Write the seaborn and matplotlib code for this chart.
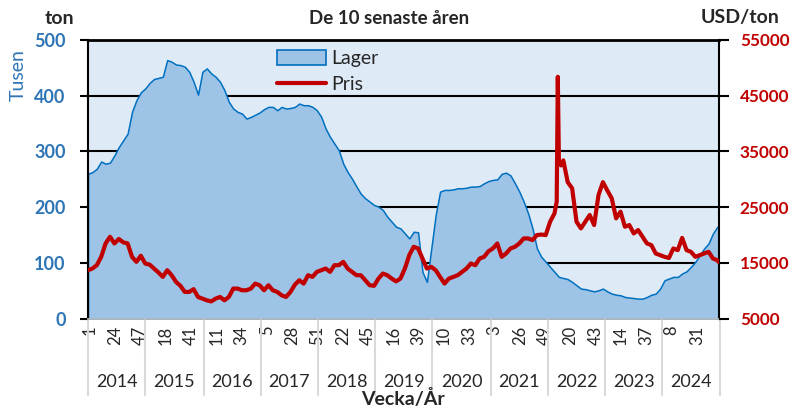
import matplotlib
matplotlib.use("Agg")
import matplotlib.pyplot as plt
import matplotlib.transforms as mtransforms
from matplotlib.patches import Patch
from matplotlib.lines import Line2D
import seaborn as sns

# År och antal veckor per år (2015 och 2020 har 53 veckor)
ar = [2014, 2015, 2016, 2017, 2018, 2019, 2020, 2021, 2022, 2023, 2024]
veckor_per_ar = [52, 53, 52, 52, 52, 52, 53, 52, 52, 52, 52]

# Lager (tusen ton), avläst var fjärde vecka (index räknat från v1 2014)
lager_vecka = list(range(0, 573, 4)) + [573]
lager = [260, 263, 269, 282, 278, 280, 293, 308, 320, 332, 371, 392, 406, 413, 423, 430,
         432, 434, 464, 461, 456, 455, 452, 443, 425, 402, 443, 449, 440, 434, 425, 410,
         389, 377, 371, 368, 359, 362, 366, 370, 376, 380, 380, 374, 380, 377, 378, 380,
         386, 383, 383, 380, 374, 362, 341, 326, 314, 302, 278, 263, 251, 237, 224, 216,
         210, 204, 201, 195, 183, 174, 165, 162, 153, 144, 156, 155, 84, 66, 126, 186,
         228, 231, 231, 232, 234, 234, 235, 237, 237, 238, 243, 247, 249, 250, 260, 262,
         257, 243, 228, 210, 189, 162, 126, 111, 102, 93, 84, 75, 73, 71, 66, 60,
         54, 53, 51, 49, 51, 54, 49, 45, 43, 42, 39, 38, 37, 36, 36, 39,
         43, 45, 54, 69, 72, 75, 75, 81, 85, 93, 102, 114, 126, 135, 153, 165, 162]

# Pris (USD/ton), var fjärde vecka plus extra punkter runt toppen mars 2022
pris_vecka = sorted(set(range(0, 573, 4)) | {426, 427, 430, 573})
pris = [13700, 14000, 14600, 16100, 18500, 19700, 18500, 19300, 18700, 18500, 16100, 15200,
        16300, 14900, 14700, 14000, 13300, 12500, 13700, 12800, 11600, 10900, 9800, 9800,
        10300, 8900, 8600, 8300, 8100, 8600, 8900, 8300, 8900, 10400, 10400, 10100,
        10100, 10400, 11300, 11000, 10100, 11000, 10100, 9800, 9200, 8900, 9800, 11100,
        11900, 11300, 12800, 12500, 13400, 13700, 14000, 13400, 14600, 14600, 15200, 14000,
        13400, 12800, 12800, 11900, 11000, 10900, 12200, 13100, 12800, 12200, 11700, 12200,
        14000, 16400, 17900, 17600, 15800, 14000, 14300, 13700, 12500, 11300, 12200, 12500,
        12800, 13400, 14000, 14900, 14600, 15800, 16100, 17100, 17600, 18500, 16100, 16700,
        17600, 17900, 18500, 19400, 19400, 19100, 20000, 20100, 20000, 22400, 23900, 26000,
        48400, 33100, 32500, 33400, 29500, 28400, 22400, 21200, 22400, 23600, 21800, 27200,
        29500, 28000, 26600, 23000, 24200, 21500, 21800, 20300, 20900, 19700, 18500, 18200,
        16700, 16400, 16100, 15900, 17600, 17300, 19500, 17300, 17000, 16100, 16400, 16700,
        17000, 15800, 15500, 15200]

BLA = "#2E75B6"
ROD = "#C00000"

sns.set_theme(style="white")
plt.rcParams["font.family"] = ["Lato", "DejaVu Sans"]

W, H = 792, 412
fig = plt.figure(figsize=(W / 100, H / 100), dpi=100)
ax = fig.add_axes([88 / W, 1 - 318.7 / H, 631 / W, 278.7 / H])
ax.set_facecolor("#DEEBF7")

# stödlinjer bakom lagret
for v in [100, 200, 300, 400]:
    ax.axhline(v, color="black", lw=1.5, zorder=1)

ax.fill_between(lager_vecka, lager, 0, facecolor="#9DC3E6", edgecolor="#0070C0",
                linewidth=1.1, zorder=2)
ax.set_xlim(0, 573.5)
ax.set_ylim(0, 500)
ax.set_yticks(range(0, 501, 100))
ax.tick_params(axis="y", length=6, width=1.5, color="black", labelcolor=BLA,
               labelsize=13, pad=10, left=True)
for t in ax.get_yticklabels():
    t.set_fontweight("bold")

# veckoetiketter var 23:e vecka
pos, etiketter = [], []
start = 0
starter = []
for a, n in zip(ar, veckor_per_ar):
    starter.append(start)
    start += n
for k in range(0, start, 23):
    i = max(j for j, s in enumerate(starter) if s <= k)
    pos.append(k + 1.5)
    etiketter.append(str(k - starter[i] + 1))
ax.set_xticks(pos)
ax.set_xticklabels(etiketter, rotation=90, fontsize=12)
ax.tick_params(axis="x", length=0, pad=5)

trans = mtransforms.blended_transform_factory(ax.transData, ax.transAxes)
for s in starter + [start]:
    ax.plot([s, s], [0, -0.275], transform=trans, clip_on=False,
            color="#D9D9D9", lw=1.5)
for a, s, n in zip(ar, starter, veckor_per_ar):
    ax.text(s + n / 2, -0.226, str(a), transform=trans, ha="center", va="center",
            fontsize=13)

for side in ["left", "right"]:
    ax.spines[side].set_color("black")
    ax.spines[side].set_linewidth(1.5)
ax.spines["top"].set_color("black")
ax.spines["top"].set_linewidth(2)
ax.spines["bottom"].set_color("#BFBFBF")

# pris på högeraxeln
ax2 = ax.twinx()
sns.lineplot(x=pris_vecka, y=pris, ax=ax2, color=ROD, linewidth=3, zorder=3)
ax2.set_ylim(5000, 55000)
ax2.set_yticks(range(5000, 55001, 10000))
ax2.tick_params(axis="y", length=7, width=1.5, color="black", labelcolor=ROD,
                labelsize=12.3, pad=8, right=True)
for t in ax2.get_yticklabels():
    t.set_fontweight("bold")
for sp in ax2.spines.values():
    sp.set_visible(False)

handles = [Patch(facecolor="#9DC3E6", edgecolor="#0070C0", linewidth=1.2),
           Line2D([], [], color=ROD, lw=3)]
ax2.legend(handles, ["Lager", "Pris"], loc="upper left",
           bbox_to_anchor=(277 / W, 1 - 50 / H), bbox_transform=fig.transFigure,
           frameon=False, fontsize=14, handlelength=2.5, handleheight=0.8,
           handletextpad=0.3, labelspacing=0.45, borderpad=0, borderaxespad=0)

fig.text(389 / W, 1 - 18 / H, "De 10 senaste åren", ha="center", va="center",
         fontsize=13.5, fontweight="bold")
fig.text(59 / W, 1 - 18 / H, "ton", ha="center", va="center", fontsize=14,
         fontweight="bold")
fig.text(740 / W, 1 - 18 / H, "USD/ton", ha="center", va="center", fontsize=14,
         fontweight="bold")
fig.text(18 / W, 1 - 75 / H, "Tusen", ha="center", va="center", rotation=90,
         fontsize=14, color=BLA)
fig.text(403 / W, 1 - 399 / H, "Vecka/År", ha="center", va="center", fontsize=14,
         fontweight="bold")

fig.savefig("out.png", dpi=100)
